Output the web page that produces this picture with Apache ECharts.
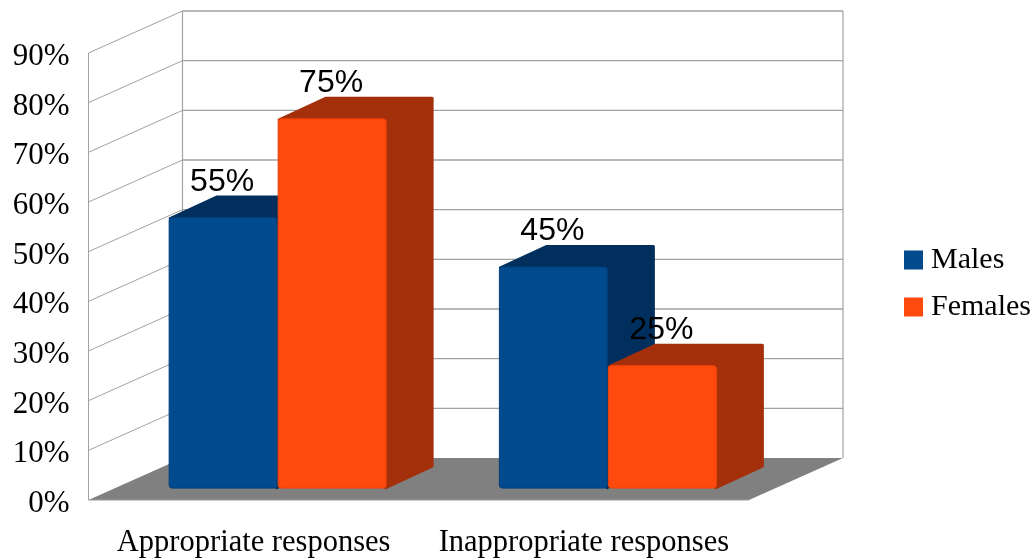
<!DOCTYPE html>
<html>
<head>
<meta charset="utf-8">
<style>html,body{margin:0;padding:0;background:#fff}#chart{width:1034px;height:558px}</style>
<script src="https://cdn.jsdelivr.net/npm/echarts@6/dist/echarts.min.js"></script>
</head>
<body>
<div id="chart"></div>
<script>
// Response categories and the share of each group, in percent
const categories = ['Appropriate responses', 'Inappropriate responses'];
const malesValues = [55, 45];
const femalesValues = [75, 25];
const tickValues = [0, 10, 20, 30, 40, 50, 60, 70, 80, 90];

// Oblique projection of the box the bars stand in (pixels)
const WALL_DX = 94, WALL_DY = -42;
const BAR_SHIFT_X = 24, BAR_SHIFT_Y = -11.4;
const BAR_DX = 47, BAR_DY = -21.5;
const BAR_WIDTH = 109;
const BAR_SCALE = 0.994;
const GRID_COLOR = '#a2a2a2';

const chart = echarts.init(document.getElementById('chart'), null, { renderer: 'canvas' });

function seg(x1, y1, x2, y2, width, color) {
  return { type: 'line', shape: { x1, y1, x2, y2 }, style: { stroke: color || GRID_COLOR, lineWidth: width, fill: null } };
}

// One gridline per tick: a diagonal on the side wall and a horizontal on the back wall
function renderWallLine(params, api) {
  const p = api.coord([0, api.value(0)]);
  const rect = params.coordSys;
  const xb = rect.x + WALL_DX, yb = p[1] + WALL_DY;
  const right = rect.x + rect.width + WALL_DX;
  const children = [];
  if (api.value(0) > 0) {
    children.push(seg(rect.x, p[1], xb, yb, 1));
    children.push(seg(xb, yb, right, yb, 1.4));
  }
  return { type: 'group', children };
}

// Floor plus the three vertical edges of the box
function renderBox(params, api) {
  const rect = params.coordSys;
  const y0 = rect.y + rect.height, yTop = rect.y;
  const x0 = rect.x, x1 = rect.x + rect.width;
  return {
    type: 'group',
    children: [
      { type: 'polygon', shape: { points: [[x0, y0], [x1, y0], [x1 + WALL_DX, y0 + WALL_DY], [x0 + WALL_DX, y0 + WALL_DY]] },
        style: { fill: '#808080' } },
      seg(x0, yTop, x0, y0, 1),
      seg(x0 + WALL_DX, yTop + WALL_DY, x0 + WALL_DX, y0 + WALL_DY, 1.2),
      seg(x1 + WALL_DX, yTop + WALL_DY, x1 + WALL_DX, y0 + WALL_DY, 1.2),
      seg(x0, y0, x1, y0, 1.2, '#9a9a9a')
    ]
  };
}

// A bar with its front, top and side faces; side = -1 left of the band centre, +1 right of it
function barRenderer(side, front, edge, shade) {
  return function (params, api) {
    const v = api.value(1);
    const c = api.coord([api.value(0), v]);
    const c0 = api.coord([api.value(0), 0]);
    const mid = c0[0] + BAR_SHIFT_X;
    const base = c0[1] + BAR_SHIFT_Y;
    const top = base - (c0[1] - c[1]) * BAR_SCALE;
    const xa = side < 0 ? mid - BAR_WIDTH : mid;
    const xb = xa + BAR_WIDTH;
    return {
      type: 'group',
      children: [
        { type: 'polygon',
          shape: { points: [[xa + 1.5, top + 1.5], [xa + BAR_DX + 1, top + BAR_DY + 1.5], [xb + BAR_DX - 1.5, top + BAR_DY + 1.5],
                            [xb + BAR_DX - 1.5, base + BAR_DY - 1], [xb - 1, base - 1]] },
          style: { fill: shade, stroke: shade, lineWidth: 3, lineJoin: 'round' } },
        { type: 'rect', shape: { x: xa + 0.5, y: top + 0.5, width: BAR_WIDTH - 1, height: base - top - 1, r: 3 },
          style: { fill: front, stroke: edge, lineWidth: 1 } },
        { type: 'text', z2: 10,
          style: { text: v + '%', x: (xa + xb) / 2 - 1, y: top - 35, fill: '#000',
                   font: '32px "Liberation Sans"', align: 'center', verticalAlign: 'middle' } }
      ]
    };
  };
}

chart.setOption({
  animation: false,
  backgroundColor: '#fff',
  grid: { left: 88.5, top: 53, width: 660.5, height: 447.7, containLabel: false },
  legend: {
    data: ['Males', 'Females'],
    orient: 'vertical', left: 899, top: 240,
    icon: 'rect', itemWidth: 19, itemHeight: 19, itemGap: 17,
    textStyle: { fontFamily: 'Liberation Serif', fontSize: 30, color: '#000', padding: [3, 0, 0, 3] },
    selectedMode: false
  },
  xAxis: {
    type: 'category', data: categories,
    axisLine: { show: false }, axisTick: { show: false }, splitLine: { show: false },
    axisLabel: { color: '#000', fontFamily: 'Liberation Serif', fontSize: 30.5, margin: 27, interval: 0 }
  },
  yAxis: {
    type: 'value', min: 0, max: 90, interval: 10,
    axisLine: { show: false }, axisTick: { show: false }, splitLine: { show: false },
    axisLabel: { color: '#000', fontFamily: 'Liberation Serif', fontSize: 31, margin: 19, verticalAlign: 'top', lineHeight: 8, formatter: '{value}%' }
  },
  series: [
    { type: 'custom', name: 'Box', silent: true, z: 1, data: [[0, 0]], renderItem: renderBox },
    { type: 'custom', name: 'Walls', silent: true, z: 1, data: tickValues.map(t => [t]), encode: { y: 0 }, renderItem: renderWallLine },
    { type: 'custom', name: 'Males', z: 3, itemStyle: { color: '#004a8d' },
      data: malesValues.map((v, i) => [i, v]), encode: { x: 0, y: 1 },
      renderItem: barRenderer(-1, '#004a8d', '#003f7a', '#002f5e') },
    { type: 'custom', name: 'Females', z: 4, itemStyle: { color: '#ff4a0e' },
      data: femalesValues.map((v, i) => [i, v]), encode: { x: 0, y: 1 },
      renderItem: barRenderer(1, '#ff4a0e', '#ee4408', '#a3300a') }
  ]
});
</script>
</body>
</html>
